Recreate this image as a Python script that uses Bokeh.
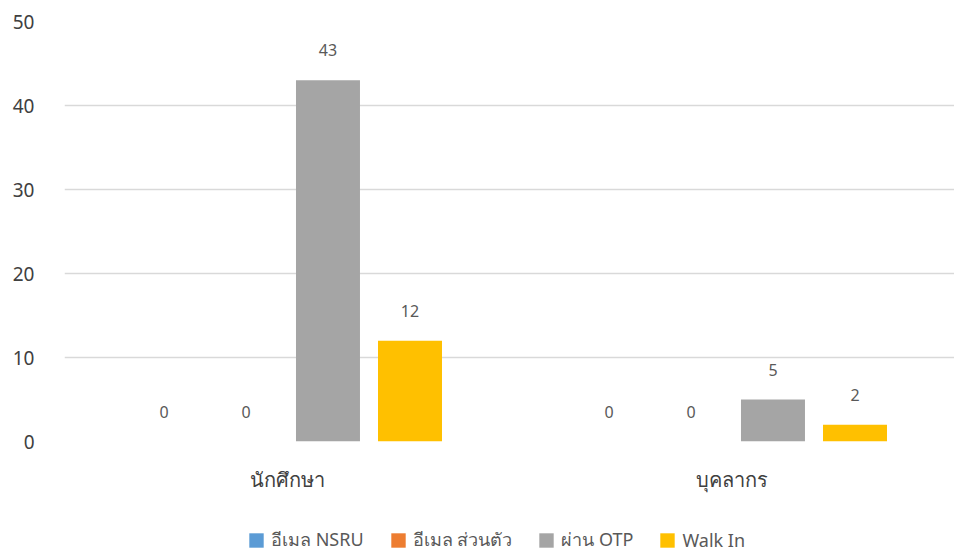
from bokeh.plotting import figure
from bokeh.models import ColumnDataSource, Legend, LegendItem, LabelSet, FactorRange
from bokeh.layouts import column
from bokeh.transform import dodge
from bokeh.core.properties import value
from bokeh.embed import file_html
from bokeh.resources import INLINE

categories = ["นักศึกษา", "บุคลากร"]
series = ["อีเมล NSRU", "อีเมล ส่วนตัว", "ผ่าน OTP", "Walk In"]
nsru = [0, 0]
personal = [0, 0]
otp = [43, 5]
walkin = [12, 2]
colors = ["#5B9BD5", "#ED7D31", "#A5A5A5", "#FFC000"]
yticks = [0, 10, 20, 30, 40, 50]

FONT = "Noto Sans"
src = ColumnDataSource(dict(cat=categories, nsru=nsru, personal=personal, otp=otp, walkin=walkin))

p = figure(frame_width=890, frame_height=420, output_backend="svg", toolbar_location=None,
           x_range=FactorRange(*categories, range_padding=0), y_range=(0, 50),
           min_border_left=64, min_border_right=0, min_border_top=21, min_border_bottom=73)
p.outline_line_color = None

offsets = [-0.2764, -0.0921, 0.0921, 0.2764]
cols = ["nsru", "personal", "otp", "walkin"]
for col, off, c, name in zip(cols, offsets, colors, series):
    p.vbar(x=dodge("cat", off, range=p.x_range), top=col, width=0.1438, source=src,
           fill_color=c, line_color=None)
    lbl = LabelSet(x=dodge("cat", off, range=p.x_range), y=col, text=col, source=src,
                   text_align="center", text_baseline="middle", y_offset=30,
                   text_font=value(FONT), text_font_size="16px", text_color="#595959")
    p.add_layout(lbl)

p.yaxis.ticker = yticks
p.yaxis.axis_line_color = None
p.yaxis.major_tick_line_color = None
p.yaxis.minor_tick_line_color = None
p.yaxis.major_tick_out = 0
p.yaxis.major_label_standoff = 30
p.yaxis.major_label_text_font = FONT
p.yaxis.major_label_text_font_size = "19px"
p.yaxis.major_label_text_color = "#404040"

p.xaxis.axis_line_color = None
p.xaxis.major_tick_line_color = None
p.xaxis.major_tick_out = 0
p.xaxis.major_label_standoff = 24
p.xaxis.major_label_text_font = FONT
p.xaxis.major_label_text_font_size = "20px"
p.xaxis.major_label_text_color = "#404040"

p.xgrid.grid_line_color = None
p.ygrid.grid_line_color = "#D9D9D9"
p.ygrid.grid_line_width = 1.5

# legend strip
q = figure(width=954, height=40, output_backend="svg", toolbar_location=None,
           x_axis_type=None, y_axis_type=None, x_range=(0, 1), y_range=(0, 1),
           min_border_left=0, min_border_right=0, min_border_top=0, min_border_bottom=0)
q.outline_line_color = None
q.xgrid.grid_line_color = None
q.ygrid.grid_line_color = None
items = []
for c, name in zip(colors, series):
    r = q.vbar(x=[-5], top=[-5], bottom=[-6], width=0.1, fill_color=c, line_color=None)
    items.append(LegendItem(label=name, renderers=[r]))
legend = Legend(items=items, orientation="horizontal", location=(183, 0),
                label_text_font=FONT, label_text_font_size="18px", label_text_color="#595959",
                glyph_width=18, glyph_height=18, spacing=25, label_standoff=6,
                border_line_color=None, background_fill_alpha=0, padding=0, margin=0)
q.add_layout(legend)

layout = column(p, q, spacing=0)
open("out.html", "w").write(file_html(layout, INLINE))
